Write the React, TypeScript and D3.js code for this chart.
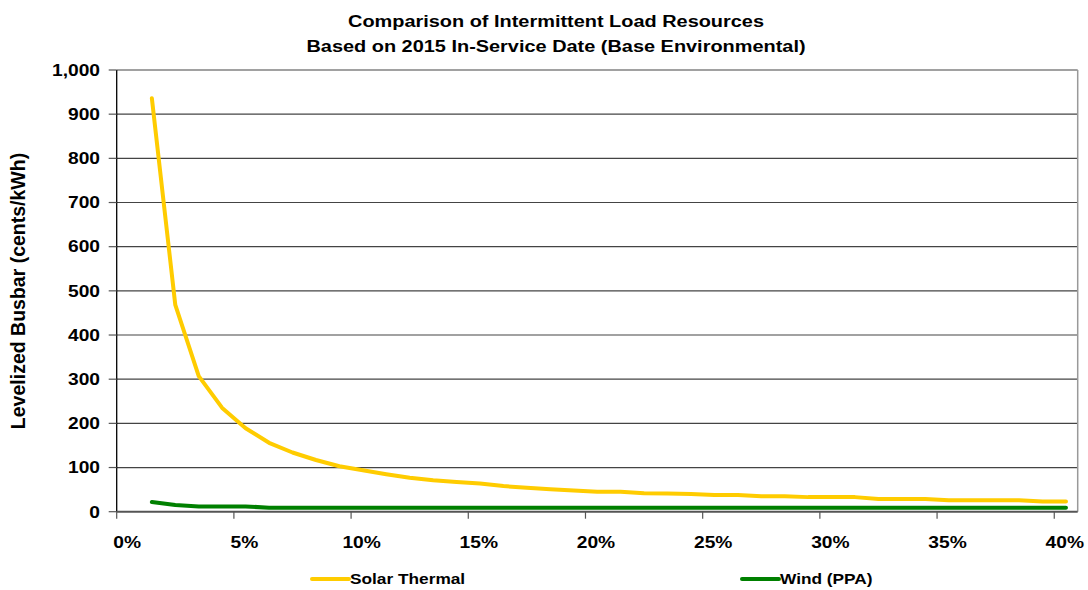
import React from "react";
import * as d3 from "d3";

// Capacity factor (%) for each computed point
const capacityFactor: number[] = [
  1.5, 2.5, 3.5, 4.5, 5.5, 6.5, 7.5, 8.5, 9.5, 10.5,
  11.5, 12.5, 13.5, 14.5, 15.5, 16.5, 17.5, 18.5, 19.5, 20.5,
  21.5, 22.5, 23.5, 24.5, 25.5, 26.5, 27.5, 28.5, 29.5, 30.5,
  31.5, 32.5, 33.5, 34.5, 35.5, 36.5, 37.5, 38.5, 39.5, 40.5,
];

// Levelized busbar cost, cents/kWh
const solarThermal: number[] = [
  936, 468, 307, 235, 189, 156, 134, 117, 103, 94,
  85, 77, 71, 67, 64, 58, 54, 51, 48, 45,
  45, 42, 41, 40, 38, 38, 35, 35, 33, 33,
  33, 29, 29, 29, 26, 26, 26, 26, 23, 23,
];

const windPPA: number[] = [
  22, 15, 12, 12, 12, 9, 9, 9, 9, 9,
  9, 9, 9, 9, 9, 9, 9, 9, 9, 9,
  9, 9, 9, 9, 9, 9, 9, 9, 9, 9,
  9, 9, 9, 9, 9, 9, 9, 9, 9, 9,
];

const xTicks: number[] = [0, 5, 10, 15, 20, 25, 30, 35, 40];
const yTicks: number[] = [0, 100, 200, 300, 400, 500, 600, 700, 800, 900, 1000];

const titleLines: string[] = [
  "Comparison of Intermittent Load Resources",
  "Based on 2015 In-Service Date (Base Environmental)",
];
const yAxisTitle = "Levelized Busbar (cents/kWh)";
const seriesNames: string[] = ["Solar Thermal", "Wind (PPA)"];
const seriesColors: string[] = ["#FFCC00", "#008000"];

const W = 1088;
const H = 590;
const FONT = "Arial, 'Liberation Sans', Helvetica, sans-serif";
const SX = 1.2; // horizontal glyph stretch

export default function App() {
  const x = d3.scaleLinear().domain([0, 41]).range([116.7, 1077.7]);
  const y = d3.scaleLinear().domain([0, 1000]).range([511.7, 70]);

  const line = d3
    .line<[number, number]>()
    .x((d) => x(d[0]))
    .y((d) => y(d[1]));

  const solarPts = capacityFactor.map((c, i) => [c, solarThermal[i]] as [number, number]);
  const windPts = capacityFactor.map((c, i) => [c, windPPA[i]] as [number, number]);

  const fmt = d3.format(",");
  const [x0, x1] = x.range();
  const [y0, y1] = y.range();

  return (
    <svg
      width={W}
      height={H}
      style={{ position: "absolute", left: 0, top: 0, background: "#fff" }}
      fontFamily={FONT}
      fontWeight="bold"
    >
      <rect x={0} y={0} width={W} height={H} fill="#fff" />

      {/* title */}
      {titleLines.map((t, i) => (
        <g key={t} transform={`translate(${556},${27 + i * 25}) scale(${SX},1)`}>
          <text textAnchor="middle" fontSize={16.6} fill="#000">
            {t}
          </text>
        </g>
      ))}

      {/* horizontal gridlines */}
      {yTicks
        .filter((v) => v > 0)
        .map((v) => (
          <line key={v} x1={x0} x2={x1} y1={y(v)} y2={y(v)} stroke="#444" strokeWidth={1.2} />
        ))}

      {/* plot border on the right */}
      <line x1={x1} x2={x1} y1={y1} y2={y0} stroke="#999" strokeWidth={1.5} />

      {/* y axis */}
      <line x1={x0} x2={x0} y1={y1} y2={y0} stroke="#000" strokeWidth={1.3} />
      {yTicks.map((v) => (
        <g key={v}>
          <line x1={x0 - 8} x2={x0} y1={y(v)} y2={y(v)} stroke="#555" strokeWidth={1.2} />
          <g transform={`translate(${100},${y(v) + 5.8}) scale(${SX},1)`}>
            <text textAnchor="end" fontSize={16} fill="#000">
              {fmt(v)}
            </text>
          </g>
        </g>
      ))}

      {/* x axis */}
      <line x1={x0} x2={x1} y1={y0} y2={y0} stroke="#555" strokeWidth={2} />
      {xTicks.map((v) => (
        <g key={v}>
          <line x1={x(v)} x2={x(v)} y1={y0} y2={y0 + 7} stroke="#555" strokeWidth={1.2} />
          <g transform={`translate(${x(v) + 10.5},${548}) scale(${SX},1)`}>
            <text textAnchor="middle" fontSize={16} fill="#000">
              {v + "%"}
            </text>
          </g>
        </g>
      ))}

      {/* y axis title */}
      <g transform={`translate(${25},${291}) rotate(-90)`}>
        <text textAnchor="middle" fontSize={19.5} fill="#000">
          {yAxisTitle}
        </text>
      </g>

      {/* series */}
      <path d={line(windPts) ?? ""} fill="none" stroke={seriesColors[1]} strokeWidth={4} strokeLinejoin="round" strokeLinecap="round" />
      <path d={line(solarPts) ?? ""} fill="none" stroke={seriesColors[0]} strokeWidth={4} strokeLinejoin="round" strokeLinecap="round" />

      {/* legend */}
      {seriesNames.map((name, i) => {
        const lx = i === 0 ? 312 : 742;
        return (
          <g key={name}>
            <line x1={lx} x2={lx + 37} y1={579} y2={579} stroke={seriesColors[i]} strokeWidth={4} strokeLinecap="round" />
            <g transform={`translate(${lx + 38},${584}) scale(${SX},1)`}>
              <text fontSize={14.4} fill="#000">
                {name}
              </text>
            </g>
          </g>
        );
      })}
    </svg>
  );
}
